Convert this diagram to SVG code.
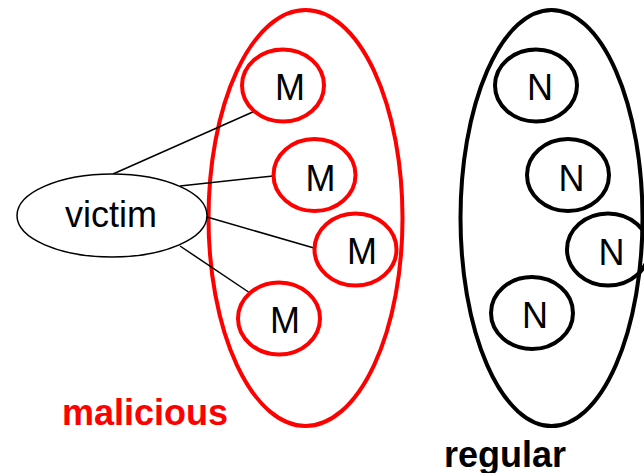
<svg xmlns="http://www.w3.org/2000/svg" width="644" height="473" viewBox="0 0 644 473">
  <style>
    .mal { fill: none; stroke: #ff0000; stroke-width: 4; }
    .reg { fill: none; stroke: #000000; stroke-width: 4; }
    .node { fill: #ffffff; }
    .lbl { font-family: "Liberation Sans", Arial, sans-serif; font-size: 36px; fill: #000000; text-anchor: middle; }
    .grp { font-family: "Liberation Sans", Arial, sans-serif; font-size: 36px; font-weight: bold; }
    .edge { stroke: #000000; stroke-width: 1.5; fill: none; }
  </style>
  <rect width="644" height="473" fill="#ffffff"/>

  <!-- group outlines -->
  <g id="malicious-set">
    <ellipse class="mal" cx="305.5" cy="218" rx="97" ry="208"/>
    <text class="grp" x="62" y="425" fill="#ff0000">malicious</text>
  </g>
  <g id="regular-set">
    <ellipse class="reg" cx="551.5" cy="218" rx="91" ry="208"/>
    <text class="grp" x="444" y="467" fill="#000000">regular</text>
  </g>

  <!-- connectors from victim to malicious nodes -->
  <g id="connectors">
    <line class="edge" x1="113" y1="174" x2="255" y2="111"/>
    <line class="edge" x1="180" y1="186" x2="273" y2="176"/>
    <line class="edge" x1="207" y1="217" x2="314" y2="248"/>
    <line class="edge" x1="180" y1="246" x2="250" y2="293"/>
  </g>

  <g id="victim">
    <ellipse cx="112" cy="215.5" rx="95" ry="41.5" fill="#ffffff" stroke="#000000" stroke-width="1.5"/>
    <text class="lbl" x="111" y="227">victim</text>
  </g>

  <g id="m1">
    <ellipse class="mal node" cx="283" cy="85.5" rx="41" ry="36"/>
    <text class="lbl" x="290" y="100">M</text>
  </g>
  <g id="m2">
    <ellipse class="mal node" cx="314.5" cy="175" rx="41" ry="36"/>
    <text class="lbl" x="320.5" y="190.5">M</text>
  </g>
  <g id="m3">
    <ellipse class="mal node" cx="355.5" cy="249.5" rx="41" ry="36"/>
    <text class="lbl" x="362" y="264">M</text>
  </g>
  <g id="m4">
    <ellipse class="mal node" cx="279" cy="318.5" rx="41" ry="36"/>
    <text class="lbl" x="285" y="333">M</text>
  </g>

  <g id="n1">
    <ellipse class="reg" cx="536" cy="85.5" rx="41" ry="36"/>
    <text class="lbl" x="540" y="100">N</text>
  </g>
  <g id="n2">
    <ellipse class="reg" cx="568" cy="175" rx="41" ry="36"/>
    <text class="lbl" x="571.5" y="190.5">N</text>
  </g>
  <g id="n3">
    <ellipse class="reg" cx="608" cy="249.5" rx="41" ry="36"/>
    <text class="lbl" x="611.5" y="265">N</text>
  </g>
  <g id="n4">
    <ellipse class="reg" cx="532" cy="313" rx="41" ry="36"/>
    <text class="lbl" x="535" y="328">N</text>
  </g>
</svg>
